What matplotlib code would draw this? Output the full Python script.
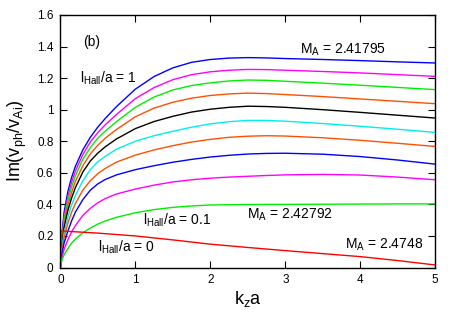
import matplotlib
matplotlib.use("Agg")
import matplotlib.pyplot as plt
from matplotlib.ticker import FuncFormatter, MultipleLocator

plt.rcParams['font.family'] = ['Liberation Sans', 'DejaVu Sans']
plt.rcParams['mathtext.fontset'] = 'custom'
plt.rcParams['mathtext.rm'] = 'Liberation Sans'
plt.rcParams['mathtext.it'] = 'Liberation Sans'
plt.rcParams['mathtext.bf'] = 'Liberation Sans'

# k_z a sample positions
k = [0, 0.02, 0.05, 0.1, 0.15, 0.2, 0.3, 0.4, 0.5, 0.6, 0.75, 1.0, 1.25, 1.5, 1.75,
     2.0, 2.25, 2.5, 2.75, 3.0, 3.5, 4.0, 4.5, 5.0]

# Im(v_ph/v_Ai) for l_Hall/a = 1.0 ... 0.1 (top to bottom)
l10 = [0, 0.20, 0.35, 0.48, 0.57, 0.64, 0.745, 0.825, 0.89, 0.945, 1.02, 1.13, 1.21, 1.265, 1.30,
       1.318, 1.327, 1.33, 1.328, 1.324, 1.318, 1.311, 1.303, 1.296]
l09 = [0, 0.18, 0.32, 0.45, 0.54, 0.61, 0.715, 0.795, 0.855, 0.905, 0.97, 1.07, 1.14, 1.19, 1.222,
       1.24, 1.25, 1.255, 1.254, 1.25, 1.242, 1.233, 1.222, 1.211]
l08 = [0, 0.165, 0.30, 0.425, 0.51, 0.58, 0.685, 0.76, 0.82, 0.865, 0.925, 1.015, 1.08, 1.125, 1.153,
       1.17, 1.182, 1.188, 1.186, 1.18, 1.168, 1.155, 1.141, 1.127]
l07 = [0, 0.15, 0.275, 0.395, 0.475, 0.545, 0.645, 0.72, 0.775, 0.82, 0.875, 0.955, 1.01, 1.047, 1.073,
       1.09, 1.10, 1.105, 1.102, 1.096, 1.083, 1.068, 1.053, 1.038]
l06 = [0, 0.135, 0.25, 0.36, 0.44, 0.505, 0.605, 0.675, 0.725, 0.765, 0.815, 0.88, 0.925, 0.958, 0.985,
       1.003, 1.015, 1.022, 1.02, 1.015, 1.0, 0.983, 0.965, 0.947]
l05 = [0, 0.12, 0.22, 0.32, 0.395, 0.455, 0.55, 0.62, 0.67, 0.705, 0.75, 0.80, 0.835, 0.863, 0.889,
       0.91, 0.924, 0.932, 0.932, 0.927, 0.912, 0.895, 0.876, 0.856]
l04 = [0, 0.10, 0.19, 0.28, 0.35, 0.405, 0.49, 0.55, 0.595, 0.628, 0.668, 0.712, 0.745, 0.772, 0.795,
       0.812, 0.825, 0.832, 0.835, 0.833, 0.822, 0.806, 0.787, 0.767]
l03 = [0, 0.08, 0.155, 0.23, 0.295, 0.35, 0.43, 0.49, 0.53, 0.558, 0.587, 0.62, 0.645, 0.667, 0.685,
       0.70, 0.711, 0.719, 0.723, 0.724, 0.718, 0.703, 0.681, 0.655]
l02 = [0, 0.06, 0.115, 0.175, 0.225, 0.265, 0.33, 0.375, 0.41, 0.437, 0.466, 0.497, 0.522, 0.542, 0.556,
       0.566, 0.573, 0.578, 0.583, 0.587, 0.59, 0.586, 0.573, 0.556]
l01 = [0, 0.045, 0.08, 0.12, 0.155, 0.18, 0.22, 0.25, 0.275, 0.295, 0.318, 0.347, 0.367, 0.381, 0.39,
       0.396, 0.398, 0.399, 0.400, 0.400, 0.401, 0.402, 0.403, 0.403]

# l_Hall/a = 0 (ideal MHD)
k0 = [0, 0.5, 1.0, 1.5, 2.0, 2.5, 3.0, 3.5, 4.0, 4.5, 5.0]
l00 = [0.232, 0.218, 0.20, 0.175, 0.148, 0.127, 0.107, 0.088, 0.069, 0.044, 0.016]

series = [l10, l09, l08, l07, l06, l05, l04, l03, l02, l01]
colors = ['#0000ff', '#ff00ff', '#00ee00', '#ff5000', '#000000',
          '#00eeee', '#ff5000', '#0000ff', '#ff00ff', '#00ee00']

fig = plt.figure(figsize=(4.57, 3.19), dpi=100)
ax = fig.add_axes([0.132, 0.1614, 0.8205, 0.7916])

for s, c in zip(series, colors):
    ax.plot(k, s, color=c, lw=1.0)
ax.plot(k0, l00, color='#ff0000', lw=1.0)

ax.set_xlim(0, 5)
ax.set_ylim(0, 1.6)
ax.xaxis.set_major_locator(MultipleLocator(1))
ax.yaxis.set_major_locator(MultipleLocator(0.2))
fmt = FuncFormatter(lambda v, p: '%g' % round(v, 3))
ax.xaxis.set_major_formatter(fmt)
ax.yaxis.set_major_formatter(fmt)
ax.tick_params(direction='in', top=True, right=True, labelsize=8.5, length=5, width=0.8, pad=5)
for sp in ax.spines.values():
    sp.set_linewidth(1.0)

ax.set_xlabel(r'k$_{\rm z}$a', fontsize=13, labelpad=2)
ax.set_ylabel(r'Im(v$_{\rm ph}$/v$_{\rm Ai}$)', fontsize=13, labelpad=6)

tfs = 10
ax.text(0.30, 1.43, '(b)', fontsize=tfs, va='center', ha='left')
ax.text(0.26, 1.20, r'l$_{\rm Hall}$/a = 1', fontsize=tfs, va='center', ha='left')
ax.text(3.2, 1.38, r'M$_{\rm A}$ = 2.41795', fontsize=tfs, va='center', ha='left')
ax.text(1.10, 0.30, r'l$_{\rm Hall}$/a = 0.1', fontsize=tfs, va='center', ha='left')
ax.text(0.50, 0.13, r'l$_{\rm Hall}$/a = 0', fontsize=tfs, va='center', ha='left')
ax.text(2.49, 0.333, r'M$_{\rm A}$ = 2.42792', fontsize=tfs, va='center', ha='left')
ax.text(3.80, 0.143, r'M$_{\rm A}$ = 2.4748', fontsize=tfs, va='center', ha='left')

fig.savefig('out.png', dpi=100)
